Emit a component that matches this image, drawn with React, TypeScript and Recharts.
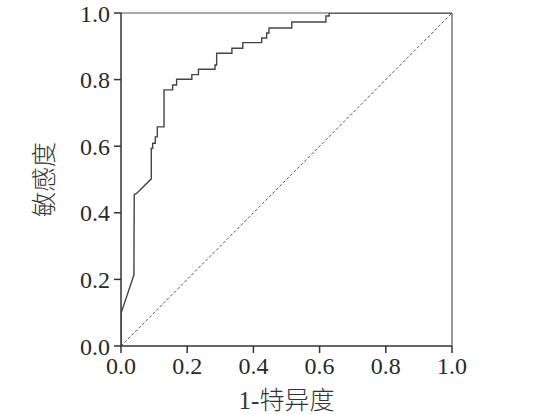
import { LineChart, Line, XAxis, YAxis, ReferenceLine } from "recharts";

// 1 - specificity (false positive rate) for each point of the ROC step curve
const fpr = [
  0, 0, 0.039, 0.04, 0.047, 0.0915, 0.0915, 0.0957, 0.0957, 0.1036, 0.1036, 0.1097, 0.1097,
  0.13, 0.13, 0.156, 0.156, 0.168, 0.168, 0.214, 0.214, 0.234, 0.234, 0.284, 0.284, 0.289,
  0.289, 0.335, 0.335, 0.368, 0.368, 0.425, 0.425, 0.44, 0.44, 0.447, 0.447, 0.516, 0.516,
  0.619, 0.619, 0.629, 0.629, 1,
];
// sensitivity
const tpr = [
  0, 0.098, 0.213, 0.455, 0.458, 0.502, 0.594, 0.594, 0.609, 0.609, 0.628, 0.628, 0.658,
  0.658, 0.769, 0.769, 0.784, 0.784, 0.801, 0.801, 0.815, 0.815, 0.831, 0.831, 0.844, 0.844,
  0.879, 0.879, 0.894, 0.894, 0.911, 0.911, 0.925, 0.925, 0.94, 0.94, 0.955, 0.955, 0.973,
  0.973, 0.991, 0.991, 1, 1,
];
const refX = [0, 1];
const refY = [0, 1];
const ticks = [0, 0.2, 0.4, 0.6, 0.8, 1.0];

const rocData = fpr.map((x, i) => ({ x, y: tpr[i] }));
const diagData = refX.map((x, i) => ({ x, y: refY[i] }));

const font = '"Liberation Serif", "Noto Sans CJK SC", serif';
const axisColor = "#333";

const YTitle = (props: any) => {
  const vb = props.viewBox || {};
  const cx = vb.x + 44;
  const cy = vb.y + vb.height / 2;
  return (
    <text
      x={cx}
      y={cy}
      transform={`rotate(-90, ${cx}, ${cy})`}
      textAnchor="middle"
      dominantBaseline="central"
      fontSize={25}
      fontWeight={300}
      fontFamily={font}
      fill="#333"
    >
      敏感度
    </text>
  );
};

const XTitle = (props: any) => {
  const vb = props.viewBox || {};
  return (
    <text
      x={vb.x + vb.width / 2}
      y={vb.y + 54}
      textAnchor="middle"
      dominantBaseline="central"
      fontSize={25}
      fontWeight={300}
      fontFamily={font}
      fill="#333"
    >
      1-特异度
    </text>
  );
};

export default function App() {
  return (
    <div style={{ position: "absolute", left: 0, top: 0, background: "#fff" }}>
      <LineChart
        width={537}
        height={414}
        margin={{ top: 13, right: 85, bottom: 0, left: 0 }}
      >
        <XAxis
          type="number"
          dataKey="x"
          domain={[0, 1]}
          ticks={ticks}
          tickFormatter={(v: number) => v.toFixed(1)}
          height={68}
          tickSize={7}
          tickMargin={4}
          tick={{ fontSize: 24, fill: "#2a2a2a", fontFamily: font }}
          stroke={axisColor}
          strokeWidth={1.5}
          allowDataOverflow
          label={<XTitle />}
        />
        <YAxis
          type="number"
          dataKey="y"
          domain={[0, 1]}
          ticks={ticks}
          tickFormatter={(v: number) => v.toFixed(1)}
          width={121}
          tickSize={7}
          tickMargin={4}
          tick={{ fontSize: 24, fill: "#2a2a2a", fontFamily: font }}
          stroke={axisColor}
          strokeWidth={1.5}
          allowDataOverflow
          label={<YTitle />}
        />
        <ReferenceLine y={1} stroke="#555" strokeWidth={1.2} />
        <ReferenceLine x={1} stroke="#555" strokeWidth={1.2} />
        <Line
          data={diagData}
          dataKey="y"
          type="linear"
          stroke="#555"
          strokeWidth={1}
          strokeDasharray="3 2"
          dot={false}
          isAnimationActive={false}
        />
        <Line
          data={rocData}
          dataKey="y"
          type="linear"
          stroke="#444"
          strokeWidth={1.4}
          dot={false}
          isAnimationActive={false}
        />
      </LineChart>
    </div>
  );
}
